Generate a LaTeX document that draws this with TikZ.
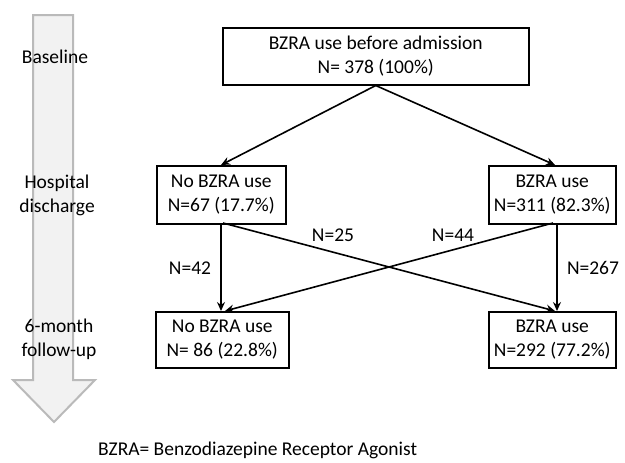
\documentclass[tikz,border=0pt]{standalone}
\usepackage{fontspec}
\setmainfont{Carlito}
\usetikzlibrary{arrows.meta}
\begin{document}
\begin{tikzpicture}[x=1pt,y=-1pt,
  every node/.style={font=\fontsize{19.5}{24}\selectfont, align=center, inner sep=0pt},
  box/.style={draw=black, line width=1.5pt, anchor=north west},
  conn/.style={line width=1.6pt, -{Stealth[length=9pt,width=8pt,inset=3pt]}},
  lbl/.style={}]
\useasboundingbox (0,0) rectangle (625,463);
% big timeline arrow
\draw[draw=black!27, fill=black!5, line width=2pt]
  (33,15) -- (73,15) -- (73,380) -- (95,380) -- (54,422) -- (13,380) -- (33,380) -- cycle;
\node (lb1) at (55,57) {Baseline};
\node (lb2) at (57,195) {Hospital\\discharge};
\node (lb3) at (59,339) {6-month\\follow-up};
% boxes
\node[box, minimum width=306pt, minimum height=57pt] (top) at (222,27) {};
\node at (top.center) {BZRA use before admission\\N= 378 (100\%)};
\node[box, minimum width=129pt, minimum height=58pt] (ml) at (156,165) {};
\node at (ml.center) {No BZRA use\\N=67 (17.7\%)};
\node[box, minimum width=127pt, minimum height=58pt] (mr) at (488,165) {};
\node at (mr.center) {BZRA use\\N=311 (82.3\%)};
\node[box, minimum width=133pt, minimum height=56pt] (bl) at (155,311) {};
\node at (bl.center) {No BZRA use\\N= 86 (22.8\%)};
\node[box, minimum width=127pt, minimum height=56pt] (br) at (488,311) {};
\node at (br.center) {BZRA use\\N=292 (77.2\%)};
% connectors
\coordinate (mlt) at (221,165);
\coordinate (mrt) at (555,165);
\draw[conn] (top.south) -- (mlt);
\draw[conn] (top.south) -- (mrt);
\draw[conn] (221,223) -- (221,311);
\draw[conn] (557,223) -- (557,311);
\draw[conn] (223,223) -- (555,311);
\draw[conn] (553,223) -- (225,311);
% labels
\node (n42) at (190,268) {N=42};
\node (n25) at (333,235) {N=25};
\node (n44) at (453,235) {N=44};
\node (n267) at (593,268) {N=267};
\node[anchor=west] (foot) at (98,450) {BZRA= Benzodiazepine Receptor Agonist};
\end{tikzpicture}
\end{document}
